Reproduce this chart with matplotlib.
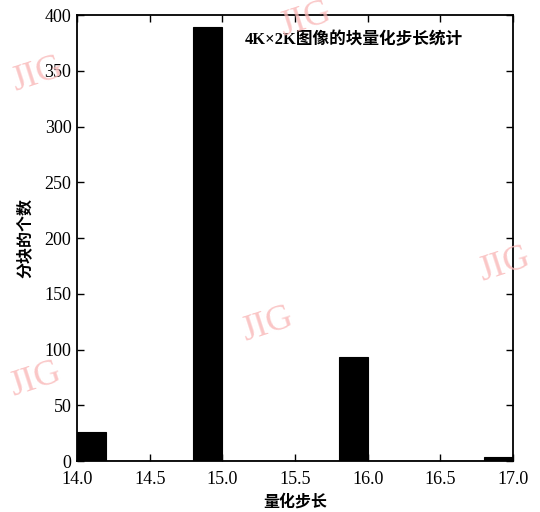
import matplotlib
matplotlib.use("Agg")
import matplotlib.pyplot as plt
from matplotlib.ticker import FormatStrFormatter

plt.rcParams['font.family'] = ['Liberation Serif', 'Noto Sans CJK SC', 'DejaVu Sans']

# data: histogram of block quantisation step (bin width 0.2)
bin_left = [14.0, 14.8, 15.8, 16.8]
counts = [26, 389, 93, 4]
bin_width = 0.2

title = "4K×2K图像的块量化步长统计"
xlabel = "量化步长"
ylabel = "分块的个数"
watermarks = [(0.565, 0.962), (0.07, 0.854), (0.935, 0.482), (0.496, 0.365), (0.065, 0.258)]

fig = plt.figure(figsize=(5.4, 5.12), dpi=100)
ax = fig.add_axes([0.1426, 0.0996, 0.8074, 0.8711])
ax.patch.set_alpha(0)  # let the watermarks show through

ax.bar(bin_left, counts, width=bin_width, align="edge", color="black", edgecolor="black", linewidth=0.8)
ax.plot([14.0, 17.0], [0, 0], color="black", linewidth=1.0)

ax.set_xlim(14.0, 17.0)
ax.set_ylim(0, 400)
ax.set_xticks([14.0, 14.5, 15.0, 15.5, 16.0, 16.5, 17.0])
ax.set_yticks(range(0, 401, 50))
ax.xaxis.set_major_formatter(FormatStrFormatter("%.1f"))
ax.tick_params(direction="in", top=True, right=True, length=5, width=1, labelsize=13, pad=4)
ax.tick_params(axis="x", pad=7)
for s in ax.spines.values():
    s.set_linewidth(1.3)

ax.text(0.385, 0.935, title, transform=ax.transAxes, fontsize=12, fontweight="bold")
ax.set_xlabel(xlabel, fontsize=11.5, labelpad=5, fontweight="bold")
ax.set_ylabel(ylabel, fontsize=11.5, labelpad=8, fontweight="bold")

# journal watermarks
for wx, wy in watermarks:
    fig.text(wx, wy, "JIG", fontsize=26, color="#f9b8b8", rotation=18,
             ha="center", va="center", alpha=0.8, zorder=0)

fig.savefig("out.png", dpi=100)
